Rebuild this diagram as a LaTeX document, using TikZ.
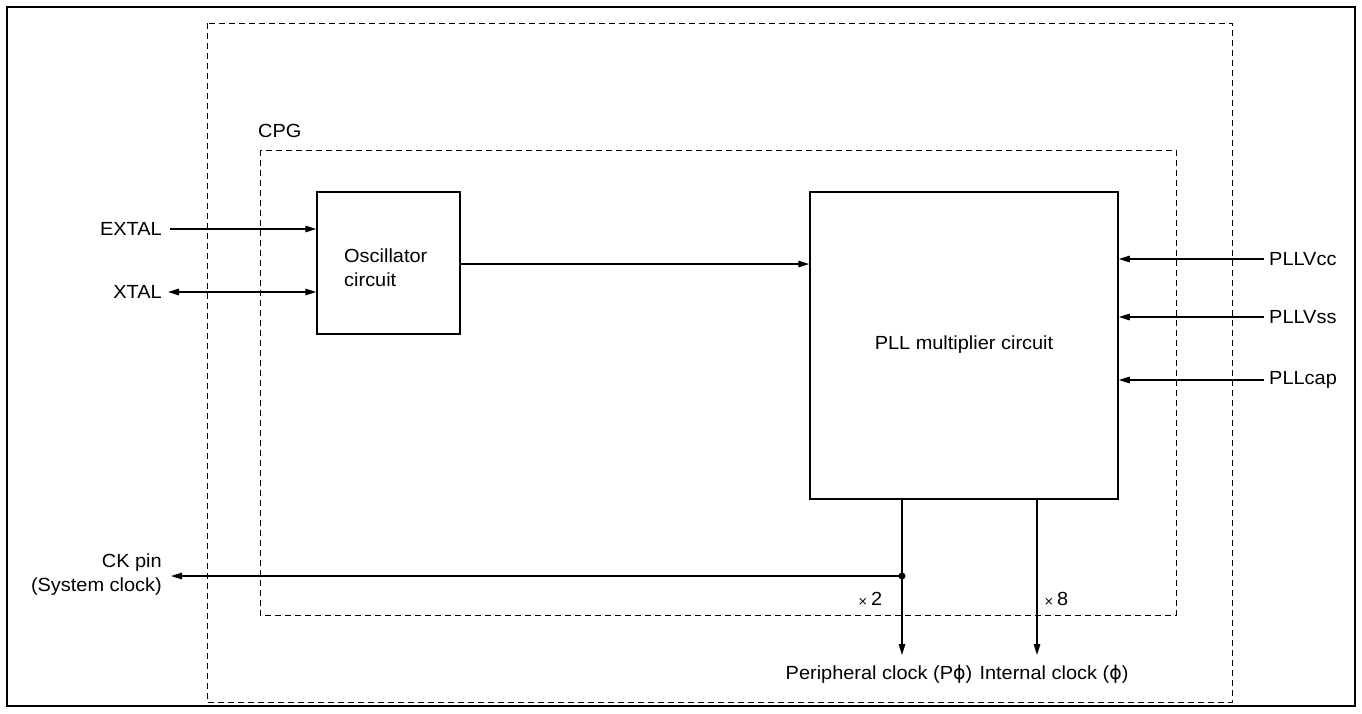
\documentclass[tikz,border=0pt]{standalone}
\usepackage{fontspec}
\setmainfont{Liberation Sans}[FakeStretch=1.05]
\newfontfamily\symf{DejaVu Sans}
\usetikzlibrary{arrows.meta}
\tikzset{
  frame/.style={draw=black, line width=2.4pt},
  dbox/.style={draw=black, line width=0.9pt, dash pattern=on 6pt off 4pt},
  blk/.style={draw=black, line width=1.5pt, rectangle, inner sep=0pt},
  lbl/.style={font=\fontsize{19}{24}\selectfont, inner sep=1pt},
  arr/.style={line width=1.5pt, -{Triangle[length=11pt,width=6.5pt]}},
  darr/.style={line width=1.5pt, {Triangle[length=11pt,width=6.5pt]}-{Triangle[length=11pt,width=6.5pt]}},
  ln/.style={line width=1.5pt}
}
\begin{document}
\begin{tikzpicture}[x=1pt,y=-1pt]
\useasboundingbox (0,0) rectangle (1362,713);
% frame and dashed boundaries
\draw[frame] (7,7) rectangle (1355,706);
\draw[dbox] (207,23) rectangle (1232,702);
\draw[dbox] (260,150) rectangle (1176,615);
\node[lbl, anchor=west] (cpg) at (257,131) {CPG};
% blocks
\node[blk, minimum width=143pt, minimum height=142pt] (osc) at (388.5,263) {};
\node[lbl, align=left, anchor=west] (osct) at (343,268) {Oscillator\\circuit};
\node[blk, minimum width=308pt, minimum height=307pt] (pll) at (964,345.5) {};
\node[lbl] (pllt) at (964,345) {PLL multiplier circuit};
% left pins
\node[lbl, anchor=east] (extal) at (163,229) {EXTAL};
\node[lbl, anchor=east] (xtal) at (163,292) {XTAL};
\draw[arr] ([xshift=7pt]extal.east) -- (extal -| osc.west);
\draw[darr] ([xshift=5pt]xtal.east) -- (xtal -| osc.west);
% osc to pll
\draw[arr] (osc.east |- 0,264) -- (pll.west |- 0,264);
% right pins
\node[lbl, anchor=west] (vcc) at (1268,259) {PLLVcc};
\node[lbl, anchor=west] (vss) at (1268,317) {PLLVss};
\node[lbl, anchor=west] (cap) at (1268,380) {PLLcap};
\draw[arr] ([xshift=-4pt]vcc.west) -- (vcc -| pll.east);
\draw[arr] ([xshift=-4pt]vss.west) -- (vss -| pll.east);
\draw[arr] ([xshift=-4pt]cap.west) -- (cap -| pll.east);
% outputs
\coordinate (o1) at (902,499);
\coordinate (o2) at (1037,499);
\coordinate (e1) at (902,655);
\coordinate (e2) at (1037,655);
\coordinate (jn) at (902,576);
\draw[arr] (o1) -- (e1);
\draw[arr] (o2) -- (e2);
\fill (jn) circle (3.5pt);
\node[lbl, align=right, anchor=east] (ck) at (163,575) {CK pin\\(System clock)};
\draw[arr] (jn) -- ([xshift=8pt]ck.east |- jn);
\node[lbl] (x2) at (870,599) {{\fontsize{12}{12}\selectfont\symf ×}\,2};
\node[lbl] (x8) at (1056,599) {{\fontsize{12}{12}\selectfont\symf ×}\,8};
\node[lbl] (pclk) at (879,674) {Peripheral clock (P{\symf ϕ})};
\node[lbl] (iclk) at (1054,674) {Internal clock ({\symf ϕ})};
\end{tikzpicture}
\end{document}
